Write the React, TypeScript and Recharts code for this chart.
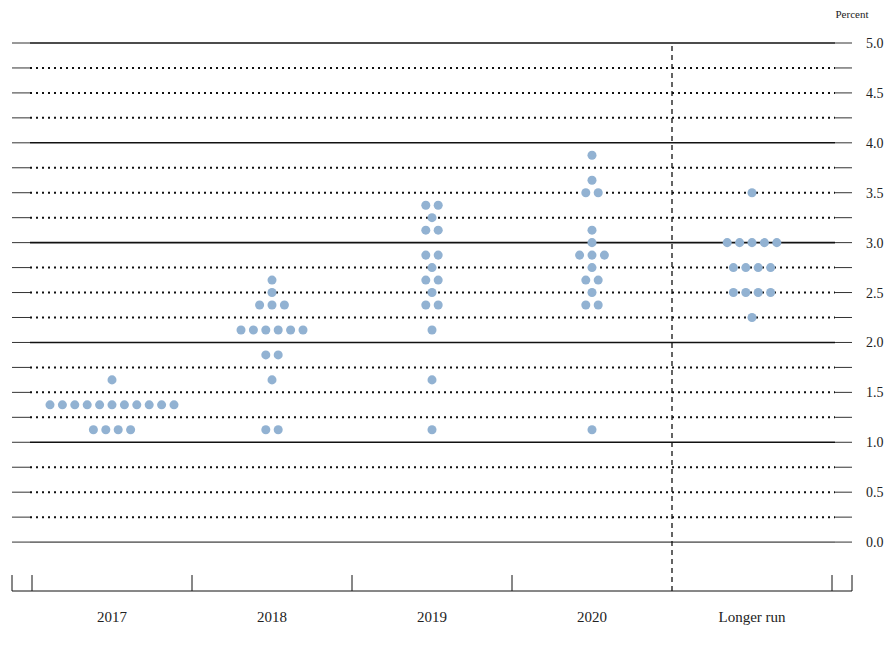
import React from 'react';
import {
  ScatterChart,
  Scatter,
  XAxis,
  YAxis,
  ZAxis,
  ReferenceLine,
} from 'recharts';

// projection categories
const years = ['2017', '2018', '2019', '2020', 'Longer run'];

// midpoint of target range (percent) and number of participants at that level
const rates2017 = [1.125, 1.375, 1.625];
const counts2017 = [4, 11, 1];

const rates2018 = [1.125, 1.625, 1.875, 2.125, 2.375, 2.5, 2.625];
const counts2018 = [2, 1, 2, 6, 3, 1, 1];

const rates2019 = [1.125, 1.625, 2.125, 2.375, 2.5, 2.625, 2.75, 2.875, 3.125, 3.25, 3.375];
const counts2019 = [1, 1, 1, 2, 1, 2, 1, 2, 2, 1, 2];

const rates2020 = [1.125, 2.375, 2.5, 2.625, 2.75, 2.875, 3.0, 3.125, 3.5, 3.625, 3.875];
const counts2020 = [1, 2, 1, 2, 1, 3, 1, 1, 2, 1, 1];

const ratesLonger = [2.25, 2.5, 2.75, 3.0, 3.5];
const countsLonger = [1, 4, 4, 5, 1];

const yTicks = [0, 0.5, 1, 1.5, 2, 2.5, 3, 3.5, 4, 4.5, 5];
const gridLevels = [0, 0.25, 0.5, 0.75, 1, 1.25, 1.5, 1.75, 2, 2.25, 2.5, 2.75, 3, 3.25, 3.5, 3.75, 4, 4.25, 4.5, 4.75, 5];

const DOT_STEP = 0.0775; // horizontal spacing between dots, in category units
const X_MIN = -0.125;
const X_MAX = 5.125;
const Y_MIN = -0.49;
const DOT_COLOR = '#92b2d2';
const FONT = '"Liberation Serif", "DejaVu Serif", serif';

const columns = [
  [rates2017, counts2017],
  [rates2018, counts2018],
  [rates2019, counts2019],
  [rates2020, counts2020],
  [ratesLonger, countsLonger],
];

const dots: { x: number; y: number }[] = [];
columns.forEach(([rates, counts], i) => {
  rates.forEach((rate, j) => {
    const n = counts[j];
    for (let k = 0; k < n; k++) {
      dots.push({ x: i + 0.5 + (k - (n - 1) / 2) * DOT_STEP, y: rate });
    }
  });
});

const boundaryTicks = [X_MIN, 0, 1, 2, 3, 5, X_MAX];

export default function App() {
  return (
    <div style={{ position: 'absolute', left: 0, top: 0, width: 894, height: 649, background: '#fff' }}>
      <div
        style={{
          position: 'absolute',
          left: 812,
          top: 8,
          width: 80,
          textAlign: 'center',
          fontFamily: FONT,
          fontSize: 11,
          color: '#222',
        }}
      >
        Percent
      </div>
      <ScatterChart width={894} height={649} margin={{ top: 43, right: 0, bottom: 0, left: 12 }}>
        <XAxis
          dataKey="x"
          type="number"
          domain={[X_MIN, X_MAX]}
          ticks={[0.5, 1.5, 2.5, 3.5, 4.5]}
          tickFormatter={(v: number) => years[Math.floor(v)]}
          height={58}
          tickLine={false}
          tickMargin={14}
          axisLine={{ stroke: '#111', strokeWidth: 1 }}
          tick={{ fill: '#222', fontSize: 15, fontFamily: FONT }}
          allowDataOverflow
        />
        <YAxis
          dataKey="y"
          type="number"
          orientation="right"
          domain={[Y_MIN, 5]}
          ticks={yTicks}
          tickFormatter={(v: number) => v.toFixed(1)}
          width={42}
          axisLine={false}
          tickLine={false}
          tickMargin={8}
          tick={{ fill: '#222', fontSize: 14, fontFamily: FONT }}
          allowDataOverflow
        />
        <ZAxis range={[80, 80]} />
        <Scatter data={dots} fill={DOT_COLOR} isAnimationActive={false} />
        {gridLevels.map((v) => {
          const whole = Number.isInteger(v);
          return (
            <ReferenceLine
              key={`g${v}`}
              segment={[{ x: -0.0125, y: v }, { x: 5.019, y: v }]}
              stroke="#111"
              strokeWidth={whole ? (v === 0 ? 1 : 1.6) : 2}
              strokeDasharray={whole ? undefined : '2 4'}
              ifOverflow="visible"
            />
          );
        })}
        {gridLevels.map((v) => (
          <ReferenceLine
            key={`l${v}`}
            segment={[{ x: X_MIN, y: v }, { x: -0.0125, y: v }]}
            stroke="#333"
            strokeWidth={1}
            ifOverflow="visible"
          />
        ))}
        {gridLevels.map((v) => (
          <ReferenceLine
            key={`r${v}`}
            segment={[{ x: 5.019, y: v }, { x: X_MAX, y: v }]}
            stroke="#333"
            strokeWidth={1}
            ifOverflow="visible"
          />
        ))}
        {boundaryTicks.map((x) => (
          <ReferenceLine
            key={`b${x}`}
            segment={[{ x, y: Y_MIN }, { x, y: -0.33 }]}
            stroke="#111"
            strokeWidth={1}
            ifOverflow="visible"
          />
        ))}
        <ReferenceLine
          segment={[{ x: 4, y: Y_MIN }, { x: 4, y: 5 }]}
          stroke="#111"
          strokeWidth={1.3}
          strokeDasharray="5 4"
          ifOverflow="visible"
        />
      </ScatterChart>
    </div>
  );
}
